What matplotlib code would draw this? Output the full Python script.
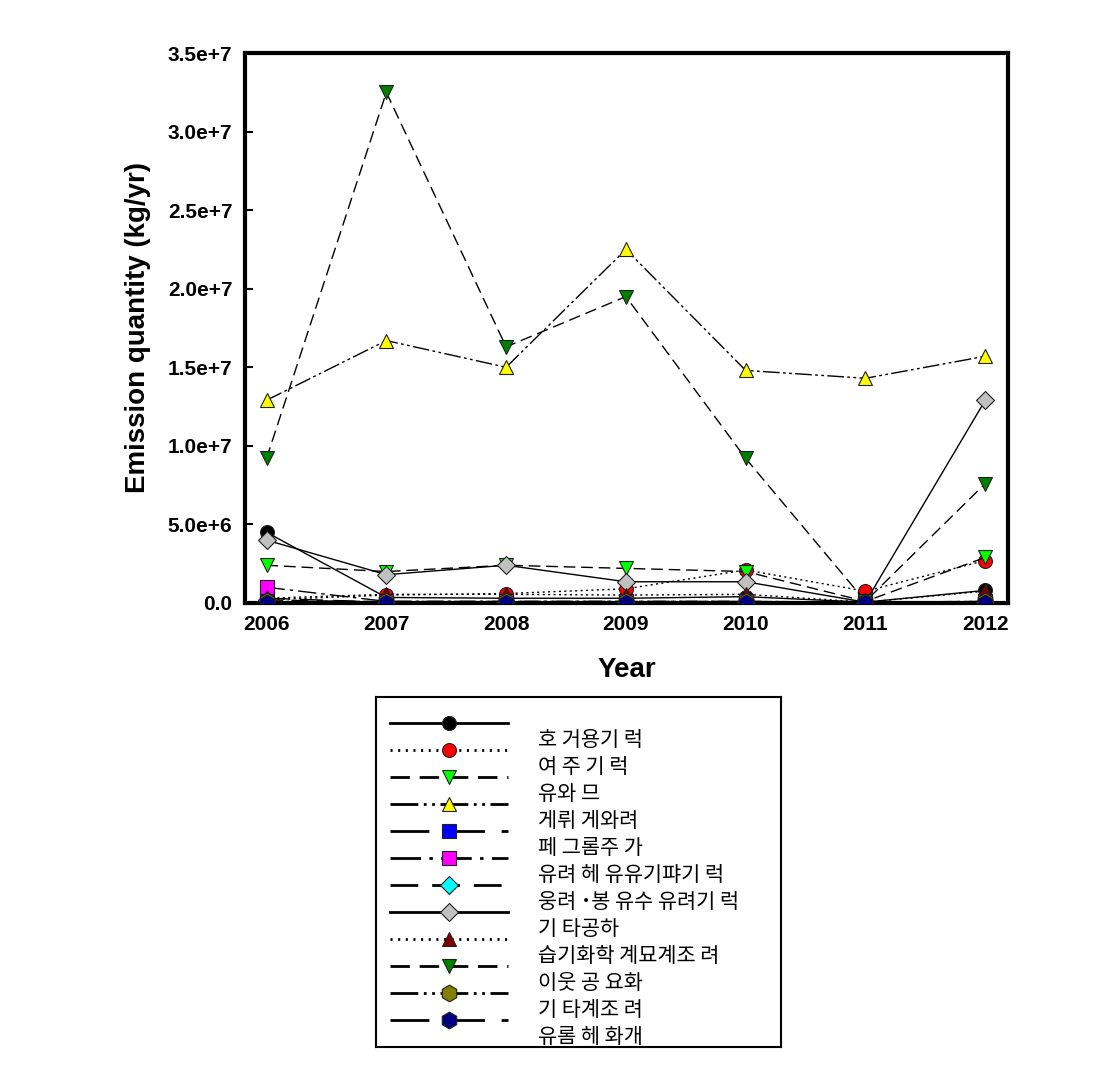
import matplotlib
matplotlib.use("Agg")
import matplotlib.pyplot as plt
from matplotlib.ticker import FuncFormatter, MultipleLocator

plt.rcParams['font.family'] = ['Liberation Sans', 'Noto Sans CJK KR', 'DejaVu Sans']
plt.rcParams['lines.scale_dashes'] = False

years = [2006, 2007, 2008, 2009, 2010, 2011, 2012]

# 업종별 배출량 (kg/yr), 그림에서 읽은 값
s01 = [4.5e6, 0.35e6, 0.3e6, 0.3e6, 0.4e6, 0.05e6, 0.8e6]
s02 = [0.2e6, 0.5e6, 0.6e6, 0.9e6, 2.1e6, 0.75e6, 2.7e6]
s03 = [2.4e6, 2.0e6, 2.4e6, 2.2e6, 2.0e6, 0.1e6, 2.9e6]
s04 = [12.9e6, 16.7e6, 15.0e6, 22.5e6, 14.8e6, 14.3e6, 15.7e6]
s05 = [0.3e6, 0.05e6, 0.05e6, 0.05e6, 0.05e6, 0.02e6, 0.05e6]
s06 = [1.0e6, 0.1e6, 0.1e6, 0.1e6, 0.1e6, 0.05e6, 0.1e6]
s07 = [0.2e6, 0.05e6, 0.05e6, 0.05e6, 0.05e6, 0.02e6, 0.05e6]
s08 = [4.0e6, 1.8e6, 2.4e6, 1.35e6, 1.35e6, 0.05e6, 12.9e6]
s09 = [0.3e6, 0.55e6, 0.55e6, 0.5e6, 0.55e6, 0.05e6, 0.75e6]
s10 = [9.2e6, 32.5e6, 16.3e6, 19.5e6, 9.2e6, 0.1e6, 7.6e6]
s11 = [0.1e6, 0.1e6, 0.1e6, 0.1e6, 0.1e6, 0.05e6, 0.1e6]
s12 = [0.0, 0.0, 0.0, 0.0, 0.0, 0.0, 0.0]
series = [s01, s02, s03, s04, s05, s06, s07, s08, s09, s10, s11, s12]

labels = ["호 거용기 럭", "여 주 기 럭", "유와 므", "게뤼 게와려", "페 그롬주 가",
          "유려 헤 유유기퍄기 럭", "웅려 ˙봉 유수 유려기 럭", "기 타공하",
          "습기화학 계묘계조 려", "이웃 공 요화", "기 타계조 려", "유롬 헤 화개"]

colors = ["#000000", "#FF0000", "#00FF00", "#FFFF00", "#0000FF", "#FF00FF",
          "#00FFFF", "#C0C0C0", "#800000", "#008000", "#808000", "#000080"]
markers = ["o", "o", "v", "^", "s", "s", "D", "D", "^", "v", "h", "h"]
dashes = [(None, None), (1.5, 4), (14, 7), (20, 4, 2, 4, 2, 4), (28, 12),
          (22, 6, 2.5, 6), (20, 10), (None, None), (1.5, 4), (14, 7),
          (20, 4, 2, 4, 2, 4), (28, 12)]
msizes = [10, 10, 10, 10, 9.5, 9.5, 9, 9, 10, 10, 12, 12]

fig = plt.figure(figsize=(11.12, 10.67), dpi=100)
ax = fig.add_axes([0.2203, 0.4349, 0.6862, 0.5154])

for i, ys in enumerate(series):
    ln, = ax.plot(years, ys, color="black", lw=1, marker=markers[i], ms=msizes[i],
                  mfc=colors[i], mec="#202020", mew=0.8, zorder=3 + i)
    if dashes[i][0] is not None:
        # 본 그래프의 점선은 범례보다 짧게
        ln.set_dashes([d * 0.6 if d > 3 else d for d in dashes[i]])

ax.set_xlim(2005.82, 2012.19)
ax.set_ylim(0, 3.5e7)
ax.set_xticks(years)
ax.yaxis.set_major_locator(MultipleLocator(5e6))


def sci(v, pos):
    if v == 0:
        return "0.0"
    e = 0
    m = v
    while abs(m) >= 10:
        m /= 10
        e += 1
    return "%.1fe+%d" % (m, e)


ax.yaxis.set_major_formatter(FuncFormatter(sci))
ax.tick_params(axis="both", direction="in", length=6, width=1.5, labelsize=15, pad=9)
for t in ax.get_xticklabels() + ax.get_yticklabels():
    t.set_fontweight("bold")
for sp in ax.spines.values():
    sp.set_linewidth(3)

ax.set_xlabel("Year", fontsize=20, fontweight="bold", labelpad=16)
ax.set_ylabel("Emission quantity (kg/yr)", fontsize=20, fontweight="bold", labelpad=12)

# 범례 상자
lax = fig.add_axes([0.3381, 0.01874, 0.3642, 0.328])
lax.set_xlim(0, 405)
lax.set_ylim(350, 0)
lax.set_xticks([])
lax.set_yticks([])
for sp in lax.spines.values():
    sp.set_linewidth(1.5)

for i in range(len(series)):
    y = 26 + i * 27
    h, = lax.plot([14, 132], [y, y], color="black", lw=2)
    if dashes[i][0] is not None:
        h.set_dashes(dashes[i])
    lax.plot([73], [y], marker=markers[i], ms=msizes[i], mfc=colors[i], mec="#202020",
             mew=0.8, ls="none")
    lax.text(162, y + 17, labels[i], fontsize=15, va="center", ha="left",
             family=['Noto Sans CJK KR', 'DejaVu Sans'])

fig.savefig("out.png", dpi=100)
